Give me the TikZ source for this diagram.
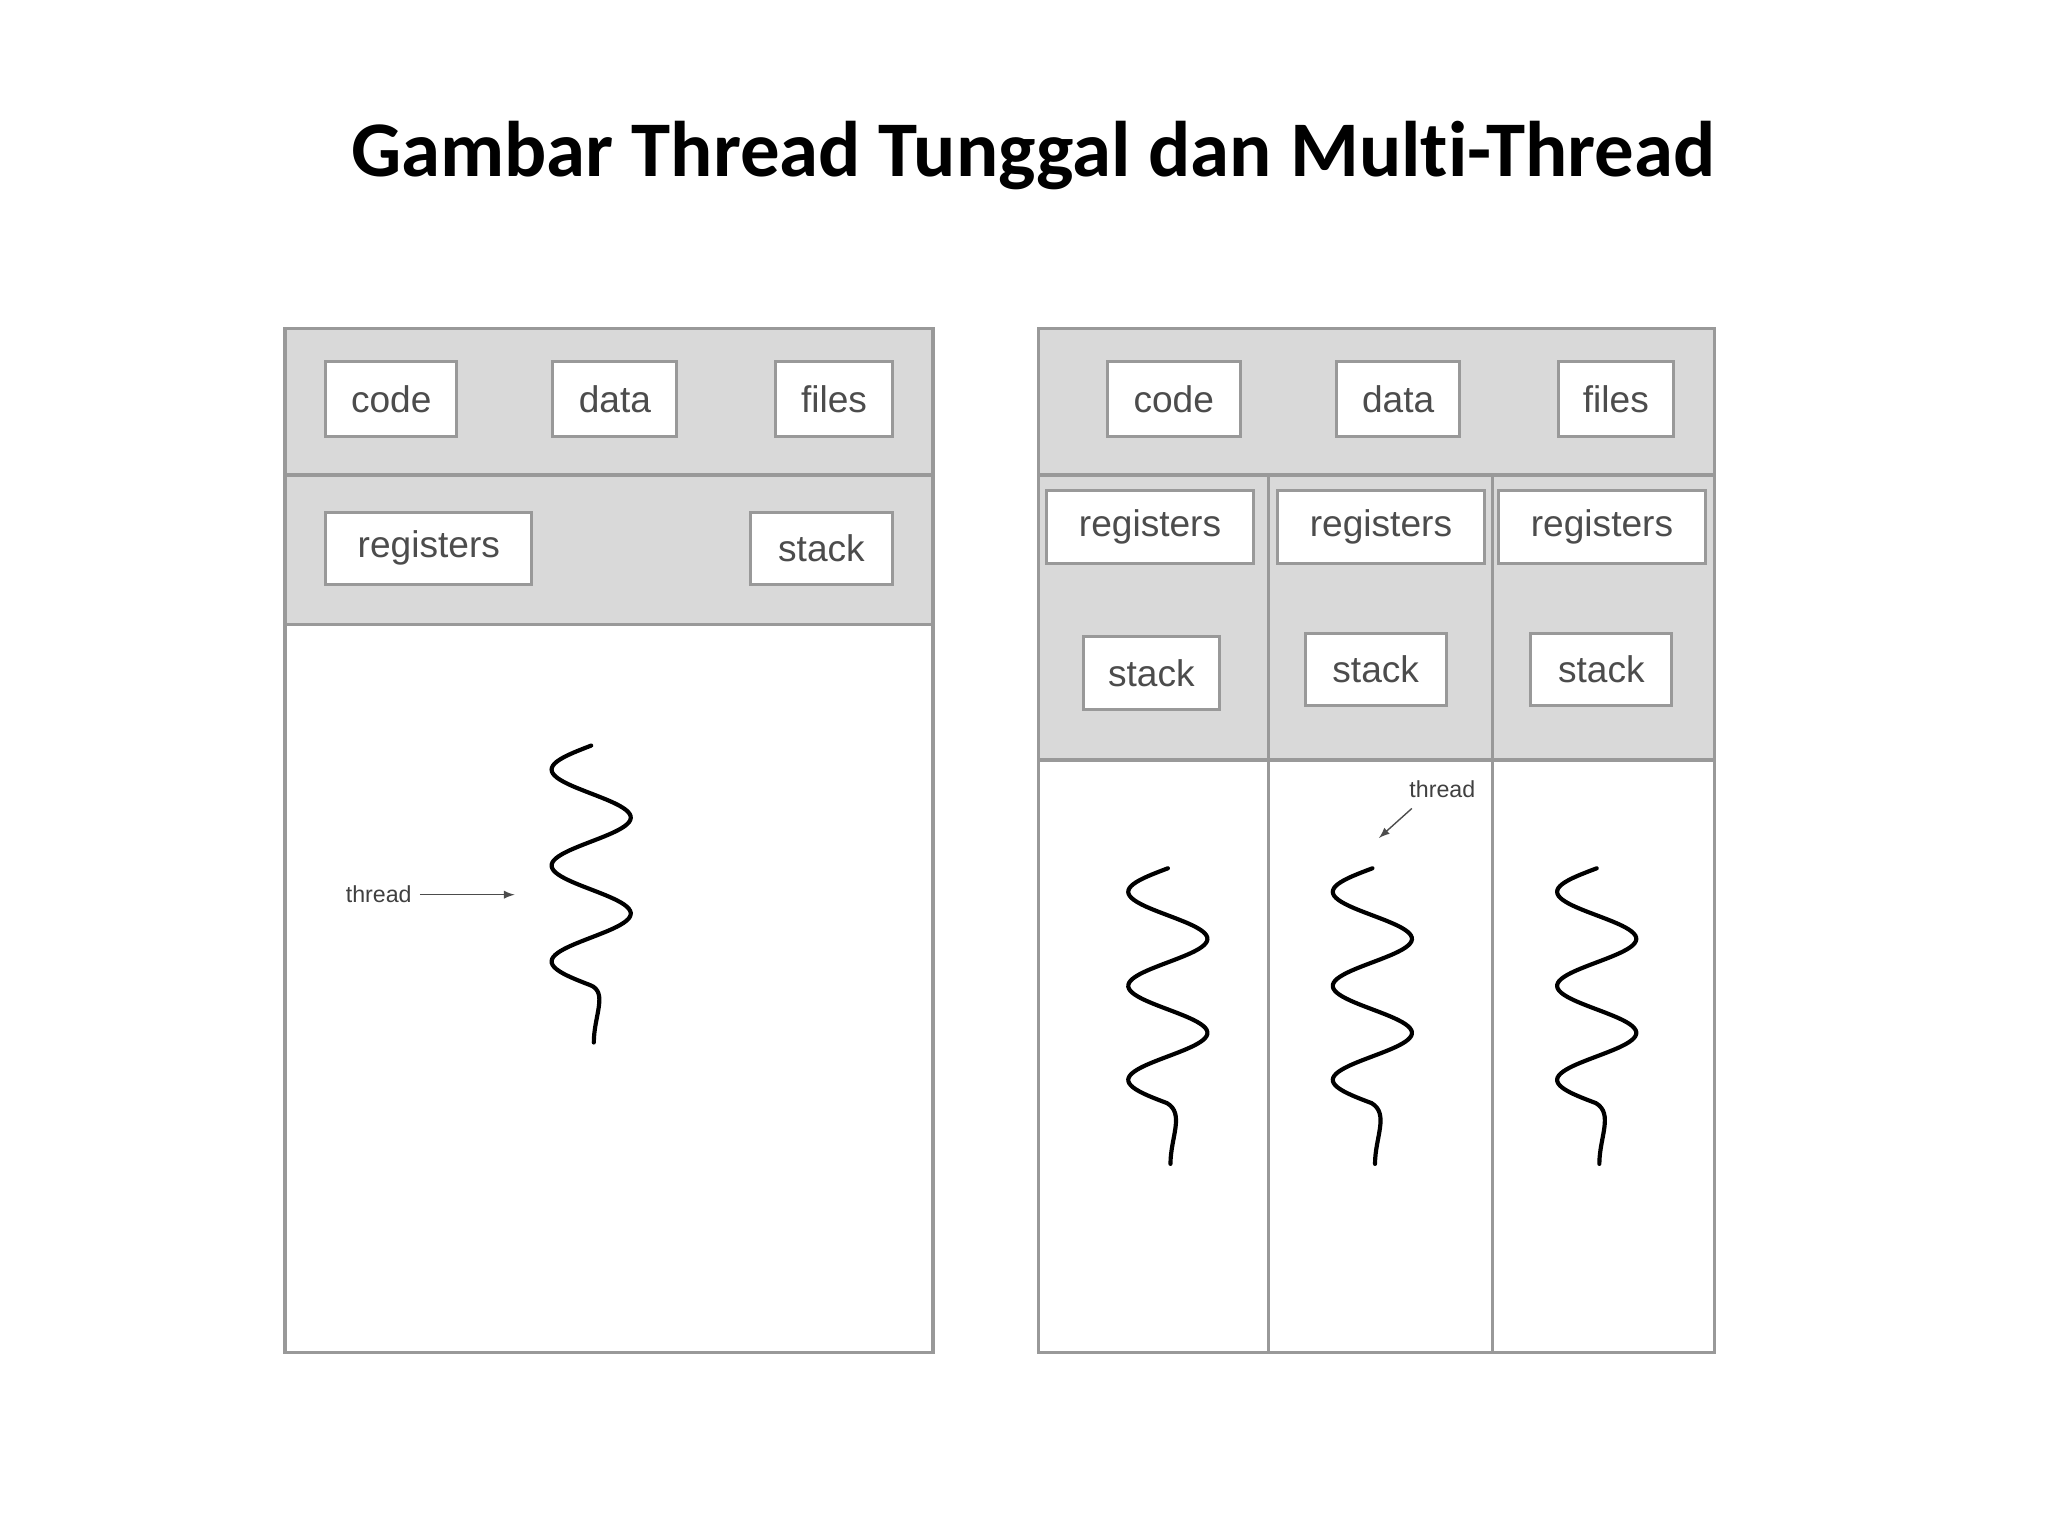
\documentclass[tikz,border=0pt]{standalone}
\usepackage{fontspec}
\setmainfont{Liberation Sans}
\newfontfamily\titlefont[Ligatures=NoCommon]{Carlito}
\begin{document}
\begin{tikzpicture}[x=0.02cm,y=-0.02cm,
  box/.style={draw=black!40,fill=white,line width=1.3pt,inner sep=0pt,font=\fontsize{16}{18}\selectfont,text=black!70},
  panel/.style={draw=black!40,line width=1.4pt},
  wig/.style={line width=1.8pt,line cap=round},
  tlab/.style={font=\fontsize{10}{12}\selectfont,text=black!75},
  arr/.style={-latex,black!70,line width=0.6pt}]
\useasboundingbox (0,0) rectangle (1552,1164);
\node[font=\titlefont\bfseries\fontsize{34}{40}\selectfont] (title) at (783,118) {Gambar Thread Tunggal dan Multi-Thread};
% left panel
\fill[black!15] (216,249) rectangle (707,473);
\draw[panel] (216,249) rectangle (707,1025);
\draw[panel] (216,360) -- (707,360);
\draw[panel] (216,473) -- (707,473);
\node[box,minimum width=1.98cm,minimum height=1.14cm] (c1) at (296.5,302.5) {code};
\node[box,minimum width=1.88cm,minimum height=1.14cm] (d1) at (466,302.5) {data};
\node[box,minimum width=1.76cm,minimum height=1.14cm] (f1) at (632,302.5) {files};
\node[box,minimum width=3.12cm,minimum height=1.1cm] (r1) at (325,415.5) {registers};
\node[box,minimum width=2.14cm,minimum height=1.1cm] (s1) at (622.5,415.5) {stack};
\draw[wig] plot[domain=0:0.909,samples=120,smooth] ({448-30*sin(\x*990)},{565+\x*200}) .. controls (461,752) and (450,770) .. (450,790);
\node[tlab] (t1) at (287,678) {thread};
\coordinate (t1a) at (390,678);
\draw[arr] (t1) -- (t1a);
% right panel
\fill[black!15] (787,249) rectangle (1299,576);
\draw[panel] (787,249) rectangle (1299,1025);
\draw[panel] (787,360) -- (1299,360);
\draw[panel] (787,576) -- (1299,576);
\draw[panel] (961,360) -- (961,1025);
\draw[panel] (1131,360) -- (1131,1025);
\node[box,minimum width=2.02cm,minimum height=1.14cm] (c2) at (889.5,302.5) {code};
\node[box,minimum width=1.86cm,minimum height=1.14cm] (d2) at (1059.5,302.5) {data};
\node[box,minimum width=1.74cm,minimum height=1.14cm] (f2) at (1224.5,302.5) {files};
\foreach \cx/\n in {871.5/a,1046.5/b,1214/c}{
  \node[box,minimum width=3.14cm,minimum height=1.1cm] (r\n) at (\cx,399.5) {registers};}
\node[box,minimum width=2.06cm,minimum height=1.12cm] (sa) at (872.5,510) {stack};
\node[box,minimum width=2.14cm,minimum height=1.1cm] (sb) at (1042.5,507.5) {stack};
\node[box,minimum width=2.14cm,minimum height=1.1cm] (sc) at (1213.5,507.5) {stack};
\foreach \cx in {885,1040,1210}{
  \draw[wig] plot[domain=0:0.909,samples=120,smooth] ({\cx-30*sin(\x*990)},{658+\x*196}) .. controls (\cx+13,844) and (\cx+2,862) .. (\cx+2,882);}
\node[tlab] (t2) at (1093,598) {thread};
\coordinate (t2a) at (1045,635);
\draw[arr] (t2.south west)++(8,2) -- (t2a);
\end{tikzpicture}
\end{document}
